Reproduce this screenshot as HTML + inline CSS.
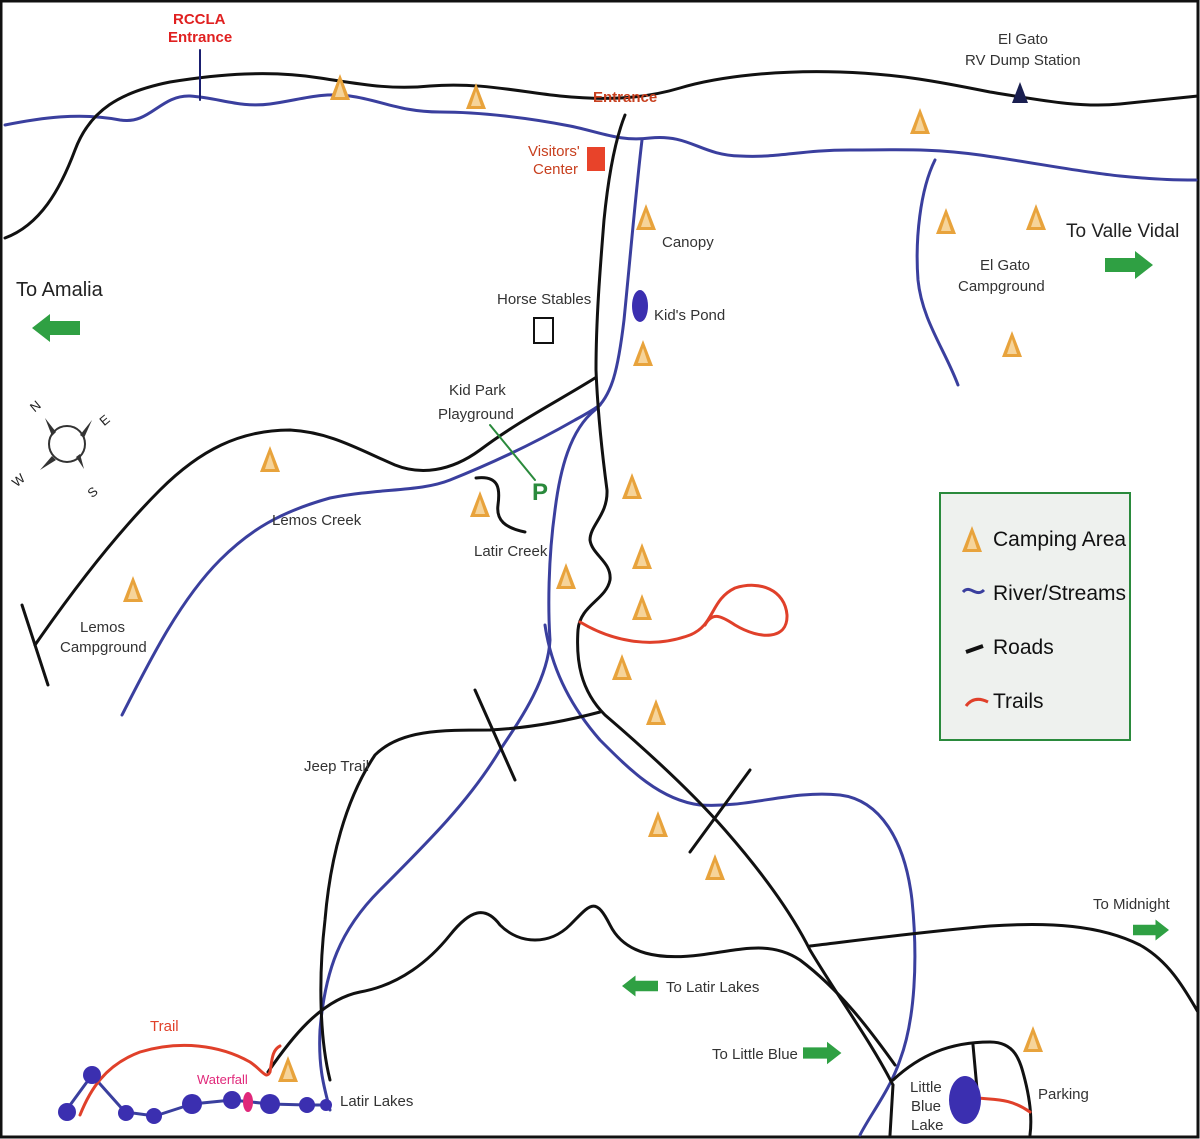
<!DOCTYPE html>
<html><head><meta charset="utf-8"><style>
html,body{margin:0;padding:0;background:#fff}
svg{display:block}
text{font-family:"Liberation Sans",sans-serif;}
</style></head><body>
<svg width="1200" height="1139" viewBox="0 0 1200 1139" xmlns="http://www.w3.org/2000/svg">
<defs>
<g id="tri"><polygon points="0,-14 -10,12 10,12" fill="#e8a33c"/><polygon points="0,-6 -5,9 5,9" fill="#f6d49a"/></g>
<g id="arrR"><polygon points="0,-7 30,-7 30,-14 48,0 30,14 30,7 0,7" fill="#2fa043"/></g>
</defs>
<rect x="0" y="0" width="1200" height="1139" fill="#fff"/>
<rect x="1" y="1" width="1197" height="1136" fill="none" stroke="#111" stroke-width="3"/>

<g fill="none" stroke-linecap="round" stroke-linejoin="round">
<!-- blue rivers -->
<g stroke="#3a3f9e" stroke-width="3">
<path d="M5,125 C40,118 80,112 120,120 C150,125 160,95 190,96 C220,98 240,108 270,104 C300,100 320,92 350,96 C380,100 400,112 440,112 C480,112 530,118 570,126 C600,132 620,142 650,138 C690,134 700,155 740,156 C780,158 800,150 850,150 C900,150 930,148 980,155 C1030,162 1080,172 1120,176 C1160,180 1180,180 1196,180"/>
<path d="M935,160 C920,190 915,240 918,280 C922,320 945,350 958,385"/>
<path d="M642,140 C636,190 630,260 624,320 C618,370 612,395 595,410 C570,430 560,470 555,510 C548,560 548,610 550,640 C548,680 520,720 500,750 C470,800 430,840 380,890 C340,930 325,970 320,1030 C318,1070 325,1090 330,1110"/>
<path d="M122,715 C150,660 180,600 220,560 C250,530 280,512 330,498 C380,488 420,492 450,480 C500,460 540,440 575,420 C590,412 600,405 600,405"/>
<path d="M545,625 C550,660 565,700 600,740 C630,770 660,800 700,805 C750,808 790,790 840,795 C880,800 905,840 912,900 C918,960 915,1020 900,1060 C890,1090 870,1115 860,1135"/>
<path d="M65,1112 L92,1075 L125,1112 L155,1116 L192,1104 L232,1100 L270,1104 L307,1105 L328,1105"/>
</g>
<!-- black roads -->
<g stroke="#111" stroke-width="3">
<path d="M5,238 C40,225 60,190 75,150 C90,110 120,92 170,82 C220,74 270,70 320,78 C360,84 390,90 430,86 C480,82 520,92 560,96 C600,100 640,100 680,88 C720,76 780,70 840,72 C900,74 940,82 990,92 C1040,100 1080,108 1120,104 C1160,100 1180,98 1198,96"/>
<path d="M625,115 C615,140 608,180 604,220 C600,270 596,320 596,370 C598,420 603,460 607,490 C608,515 590,525 590,540 C592,555 612,562 610,580 C606,600 580,605 578,630 C576,660 580,690 605,715 C640,745 690,790 725,830 C760,870 790,910 810,950 C840,1000 870,1040 893,1085"/>
<path d="M595,378 C560,400 520,420 480,450 C450,472 420,475 395,465 C360,450 330,432 290,430 C240,430 200,450 160,490 C120,530 80,580 35,645"/>
<path d="M22,605 L48,685"/>
<path d="M476,478 C500,475 500,490 498,505 C496,520 505,528 525,532"/>
<path d="M330,1080 C320,1040 318,980 325,920 C330,860 345,800 375,755 C400,730 440,730 490,730 C530,728 570,720 600,712"/>
<path d="M475,690 L515,780"/><path d="M690,852 L750,770"/>
<path d="M268,1072 C290,1040 320,1000 360,992 C400,985 430,960 450,935 C470,910 485,905 500,925 C520,945 550,945 570,925 C590,905 595,895 610,925 C625,955 660,960 700,955 C740,950 770,940 800,960 C840,990 870,1030 895,1065"/>
<path d="M810,946 C860,940 920,932 990,926 C1050,922 1100,925 1140,945 C1170,962 1185,990 1198,1012"/>
<path d="M893,1085 L890,1135"/>
<path d="M893,1080 C920,1055 950,1042 990,1042 C1015,1042 1020,1060 1025,1080 C1030,1100 1032,1120 1030,1135"/>
<path d="M973,1045 L978,1100"/>
</g>
<!-- red trails -->
<g stroke="#e0402a" stroke-width="3">
<path d="M580,622 C610,640 650,650 690,635 C715,625 710,600 735,588 C760,580 785,590 787,615 C788,640 760,640 735,625 C720,615 712,612 705,625"/>
<path d="M80,1115 C90,1090 105,1065 140,1052 C180,1040 220,1045 250,1062 C262,1070 266,1080 270,1072 C272,1060 272,1050 280,1046"/>
<path d="M978,1098 C995,1100 1010,1098 1030,1112"/>
</g>
<path d="M490,425 L535,480" stroke="#2a8a3c" stroke-width="2"/>
<path d="M200,50 L200,100" stroke="#1a1f70" stroke-width="2"/>
</g>

<!-- lakes chain -->
<g fill="#3b2fb0">
<circle cx="67" cy="1112" r="9"/><circle cx="92" cy="1075" r="9"/><circle cx="126" cy="1113" r="8"/><circle cx="154" cy="1116" r="8"/><circle cx="192" cy="1104" r="10"/><circle cx="232" cy="1100" r="9"/><circle cx="270" cy="1104" r="10" /><circle cx="307" cy="1105" r="8"/><circle cx="326" cy="1105" r="6"/>
<ellipse cx="640" cy="306" rx="8" ry="16"/>
<ellipse cx="965" cy="1100" rx="16" ry="24"/>
</g>
<ellipse cx="248" cy="1102" rx="5" ry="10" fill="#e0287a"/>
<polygon points="1020,82 1012,103 1028,103" fill="#1a1f50"/>
<rect x="587" y="147" width="18" height="24" fill="#e8432a"/>
<rect x="534" y="318" width="19" height="25" fill="#fff" stroke="#111" stroke-width="2"/>

<!-- camping triangles -->
<g>
<use href="#tri" x="340" y="88"/><use href="#tri" x="476" y="97"/><use href="#tri" x="920" y="122"/>
<use href="#tri" x="946" y="222"/><use href="#tri" x="1036" y="218"/><use href="#tri" x="1012" y="345"/>
<use href="#tri" x="646" y="218"/><use href="#tri" x="643" y="354"/><use href="#tri" x="270" y="460"/>
<use href="#tri" x="480" y="505"/><use href="#tri" x="133" y="590"/><use href="#tri" x="632" y="487"/>
<use href="#tri" x="642" y="557"/><use href="#tri" x="566" y="577"/><use href="#tri" x="642" y="608"/>
<use href="#tri" x="622" y="668"/><use href="#tri" x="656" y="713"/><use href="#tri" x="658" y="825"/>
<use href="#tri" x="715" y="868"/><use href="#tri" x="1033" y="1040"/><use href="#tri" x="288" y="1070"/>
</g>

<!-- arrows -->
<use href="#arrR" x="1105" y="265"/>
<use href="#arrR" x="1133" y="930" transform="translate(1133,930) scale(0.75) translate(-1133,-930)"/>
<use href="#arrR" x="803" y="1053" transform="translate(803,1053) scale(0.8) translate(-803,-1053)"/>
<g transform="translate(80,328) scale(-1,1)"><use href="#arrR"/></g>
<g transform="translate(658,986) scale(-0.75,0.75)"><use href="#arrR"/></g>

<!-- compass -->
<g stroke="#333" stroke-width="2" fill="none"><circle cx="67" cy="444" r="18"/></g>
<g fill="#333">
<polygon points="45,418 56,432 52,436"/><polygon points="92,420 80,435 84,438"/>
<polygon points="40,470 52,456 56,460"/><polygon points="84,469 76,457 80,454"/>
</g>
<g font-size="13" fill="#222">
<text x="30" y="410" transform="rotate(-40 36 405)">N</text>
<text x="100" y="425" transform="rotate(-40 104 420)">E</text>
<text x="12" y="485" transform="rotate(-40 18 480)">W</text>
<text x="88" y="497" transform="rotate(-40 92 492)">S</text>
</g>

<!-- legend -->
<rect x="940" y="493" width="190" height="247" fill="#eef1ee" stroke="#2a8a3c" stroke-width="2"/>
<use href="#tri" x="972" y="540"/>
<path d="M963,592 C970,584 976,598 984,590" stroke="#3a3f9e" stroke-width="3" fill="none"/>
<path d="M966,652 L983,646" stroke="#111" stroke-width="4"/>
<path d="M966,706 C972,698 980,698 988,702" stroke="#e0402a" stroke-width="3" fill="none"/>
<g font-size="21" fill="#111">
<text x="993" y="546">Camping Area</text>
<text x="993" y="600">River/Streams</text>
<text x="993" y="654">Roads</text>
<text x="993" y="708">Trails</text>
</g>

<!-- labels -->
<g font-size="15" fill="#333">
<text x="173" y="24" fill="#e02020" font-weight="bold">RCCLA</text>
<text x="168" y="42" fill="#e02020" font-weight="bold">Entrance</text>
<text x="593" y="102" fill="#c8401f" font-weight="bold">Entrance</text>
<text x="528" y="156" fill="#c8401f">Visitors'</text>
<text x="533" y="174" fill="#c8401f">Center</text>
<text x="998" y="44">El Gato</text>
<text x="965" y="65">RV Dump Station</text>
<text x="662" y="247">Canopy</text>
<text x="980" y="270">El Gato</text>
<text x="958" y="291">Campground</text>
<text x="497" y="304">Horse Stables</text>
<text x="654" y="320">Kid's Pond</text>
<text x="449" y="395">Kid Park</text>
<text x="438" y="419">Playground</text>
<text x="272" y="525">Lemos Creek</text>
<text x="474" y="556">Latir Creek</text>
<text x="80" y="632">Lemos</text>
<text x="60" y="652">Campground</text>
<text x="304" y="771">Jeep Trail</text>
<text x="1093" y="909">To Midnight</text>
<text x="666" y="992">To Latir Lakes</text>
<text x="712" y="1059">To Little Blue</text>
<text x="150" y="1031" fill="#e0402a">Trail</text>
<text x="197" y="1084" fill="#e0287a" font-size="13">Waterfall</text>
<text x="340" y="1106">Latir Lakes</text>
<text x="910" y="1092">Little</text>
<text x="911" y="1111">Blue</text>
<text x="911" y="1130">Lake</text>
<text x="1038" y="1099">Parking</text>
</g>
<text x="16" y="296" font-size="20" fill="#222">To Amalia</text>
<text x="1066" y="237" font-size="19" fill="#222">To Valle Vidal</text>
<text x="532" y="500" font-size="24" font-weight="bold" fill="#2a8a3c">P</text>
</svg>
</body></html>
